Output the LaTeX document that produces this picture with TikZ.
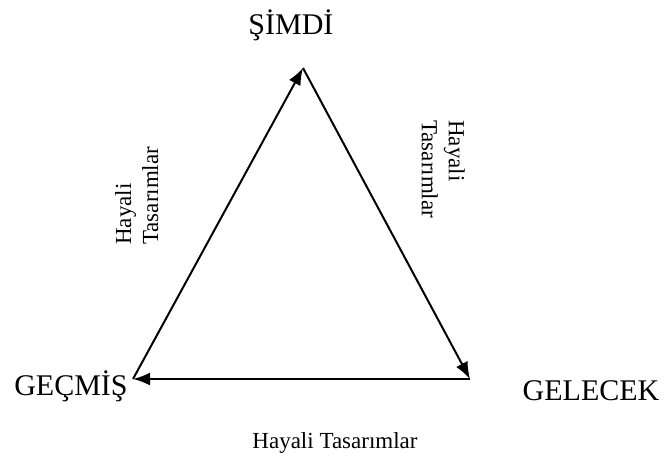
\documentclass[tikz,border=0pt]{standalone}
\usepackage{fontspec}
\setmainfont{Liberation Serif}
\usetikzlibrary{arrows.meta}
\begin{document}
\begin{tikzpicture}[x=1pt,y=-1pt,
  bigtext/.style={font=\fontsize{30}{34}\selectfont, inner sep=0pt, anchor=base},
  smalltext/.style={font=\fontsize{23}{27}\selectfont, inner sep=0pt},
  edge/.style={line width=2pt, -{Latex[length=17pt,width=13pt]}}]
\path[use as bounding box] (0,0) rectangle (667,457);
\coordinate (T) at (303,68);
\coordinate (L) at (133,379);
\coordinate (R) at (470,379);
\node[bigtext] (simdi) at (291,35) {ŞİMDİ};
\node[bigtext] (gecmis) at (71,395) {GEÇMİŞ};
\node[bigtext] (gelecek) at (591,400) {GELECEK};
\node[smalltext, anchor=base] (lb) at (335,448) {Hayali Tasarımlar};
\node[smalltext, rotate=90, align=left, anchor=north west] (ll) at (115,245) {Hayali\\Tasarımlar};
\node[smalltext, rotate=-90, align=left, anchor=north west] (lr) at (465,120) {Hayali\\Tasarımlar};
\draw[edge] (L) -- (T);
\draw[edge] (T) -- (R);
\draw[edge] (R) -- (L);
\end{tikzpicture}
\end{document}
